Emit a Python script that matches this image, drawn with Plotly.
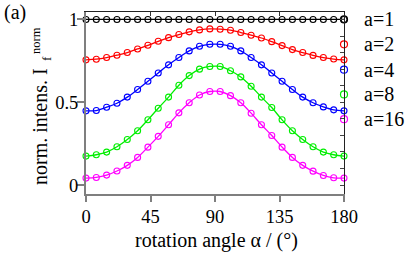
import plotly.graph_objects as go

# ---------------- data ----------------
angles = [i * 7.2 for i in range(26)]  # rotation angle alpha (deg), 0..180

a1 = [1.0] * 26
a2 = [0.756, 0.760, 0.770, 0.784, 0.800, 0.822, 0.844, 0.868, 0.890, 0.909, 0.925, 0.937, 0.943,
      0.941, 0.935, 0.921, 0.905, 0.888, 0.866, 0.842, 0.818, 0.800, 0.783, 0.770, 0.761, 0.756]
a4 = [0.448, 0.450, 0.470, 0.494, 0.531, 0.577, 0.627, 0.677, 0.726, 0.770, 0.810, 0.838, 0.850,
      0.850, 0.838, 0.810, 0.770, 0.726, 0.677, 0.627, 0.577, 0.531, 0.497, 0.472, 0.454, 0.448]
a8 = [0.175, 0.183, 0.199, 0.231, 0.275, 0.328, 0.394, 0.464, 0.531, 0.603, 0.661, 0.700, 0.716,
      0.716, 0.690, 0.653, 0.597, 0.531, 0.468, 0.394, 0.328, 0.275, 0.231, 0.199, 0.183, 0.175]
a16 = [0.042, 0.046, 0.060, 0.085, 0.119, 0.167, 0.229, 0.294, 0.364, 0.436, 0.497, 0.544, 0.565,
       0.565, 0.540, 0.497, 0.434, 0.364, 0.299, 0.229, 0.167, 0.119, 0.084, 0.058, 0.044, 0.042]

series_names = ["a=1", "a=2", "a=4", "a=8", "a=16"]
series_values = [a1, a2, a4, a8, a16]
series_colors = ["#000000", "#ff0000", "#0000ff", "#00ee00", "#ff00ff"]

x_ticks = [0, 45, 90, 135, 180]
y_ticks = [0, 0.5, 1]
y_ticktext = ["0", "0.5", "1"]

# legend key positions (in y-axis units, along the right frame)
legend_y = [1.0, 0.850, 0.697, 0.547, 0.398]

FONT = "Liberation Serif"
GRAY = "#7f7f7f"

fig = go.Figure()

for name, vals, col in zip(series_names, series_values, series_colors):
    fig.add_trace(go.Scatter(
        x=angles, y=vals, mode="lines+markers", name=name,
        line=dict(color=col, width=1.3, shape="spline"),
        marker=dict(symbol="circle-open", size=6, color=col, line=dict(width=1.1, color=col)),
        cliponaxis=False, showlegend=False))

# legend keys
fig.add_trace(go.Scatter(
    x=[180] * len(legend_y), y=legend_y, mode="markers",
    marker=dict(symbol="circle-open", size=7, color=series_colors,
                line=dict(width=1.2, color=series_colors)),
    cliponaxis=False, showlegend=False, hoverinfo="skip"))

# dummy trace for mirror axes
fig.add_trace(go.Scatter(x=[None], y=[None], xaxis="x2", yaxis="y2", showlegend=False))

yr = [-0.054, 1.045]

fig.update_layout(
    width=415, height=256,
    margin=dict(l=86, r=71, t=10, b=62, pad=0),
    paper_bgcolor="white", plot_bgcolor="white",
    font=dict(family=FONT, color="black", size=18),
    xaxis=dict(range=[0, 180], tickvals=x_ticks, ticks="outside", ticklen=6, tickwidth=2,
               tickcolor=GRAY, showline=True, linecolor=GRAY, linewidth=2,
               showgrid=False, zeroline=False, ticklabelstandoff=-1,
               tickfont=dict(family=FONT, size=18.5, color="black")),
    xaxis2=dict(range=[0, 180], overlaying="x", side="top", tickvals=[45, 90, 135],
                ticks="inside", ticklen=4, tickwidth=1, tickcolor="#333333",
                showline=True, linecolor="#222222", linewidth=1,
                showticklabels=False, showgrid=False, zeroline=False),
    yaxis=dict(range=yr, tickvals=y_ticks, ticktext=y_ticktext, ticks="outside", ticklen=7,
               tickwidth=2, tickcolor=GRAY, showline=True, linecolor=GRAY, linewidth=2,
               showgrid=False, zeroline=False, ticklabelstandoff=-5,
               tickfont=dict(family=FONT, size=18.5, color="black")),
    yaxis2=dict(range=yr, overlaying="y", side="right", tick0=0, dtick=0.1,
                ticks="inside", ticklen=4, tickwidth=1, tickcolor="#444444",
                showline=True, linecolor="#222222", linewidth=1,
                showticklabels=False, showgrid=False, zeroline=False),
)

ann = []
# legend labels
for name, yv in zip(series_names, legend_y):
    ann.append(dict(x=180, y=yv, xref="x", yref="y", text=name, showarrow=False,
                    xanchor="left", yanchor="middle", xshift=18,
                    font=dict(family=FONT, size=20, color="black")))
# panel label
ann.append(dict(x=0, y=0, xref="paper", yref="paper", text="(a)", showarrow=False,
                xanchor="left", yanchor="middle", xshift=-84, yshift=182,
                font=dict(family=FONT, size=20, color="black")))
# x title
ann.append(dict(x=0.5, y=0, xref="paper", yref="paper", text="rotation angle α / (°)",
                showarrow=False, xanchor="center", yanchor="middle", xshift=1, yshift=-46,
                font=dict(family=FONT, size=20, color="black")))
# y title pieces
ann.append(dict(x=0, y=0, xref="paper", yref="paper", text="norm. intens. I",
                showarrow=False, textangle=-90, xanchor="center", yanchor="middle",
                xshift=-46, yshift=67, font=dict(family=FONT, size=20, color="black")))
ann.append(dict(x=0, y=0, xref="paper", yref="paper", text="f",
                showarrow=False, textangle=-90, xanchor="center", yanchor="middle",
                xshift=-40, yshift=135, font=dict(family=FONT, size=13, color="black")))
ann.append(dict(x=0, y=0, xref="paper", yref="paper", text="norm",
                showarrow=False, textangle=-90, xanchor="center", yanchor="middle",
                xshift=-50, yshift=153, font=dict(family=FONT, size=12.5, color="black")))
fig.update_layout(annotations=ann)

fig.write_html("out.html", config={"displayModeBar": False},
               post_script="document.body.style.margin='0';document.body.style.padding='0';")
